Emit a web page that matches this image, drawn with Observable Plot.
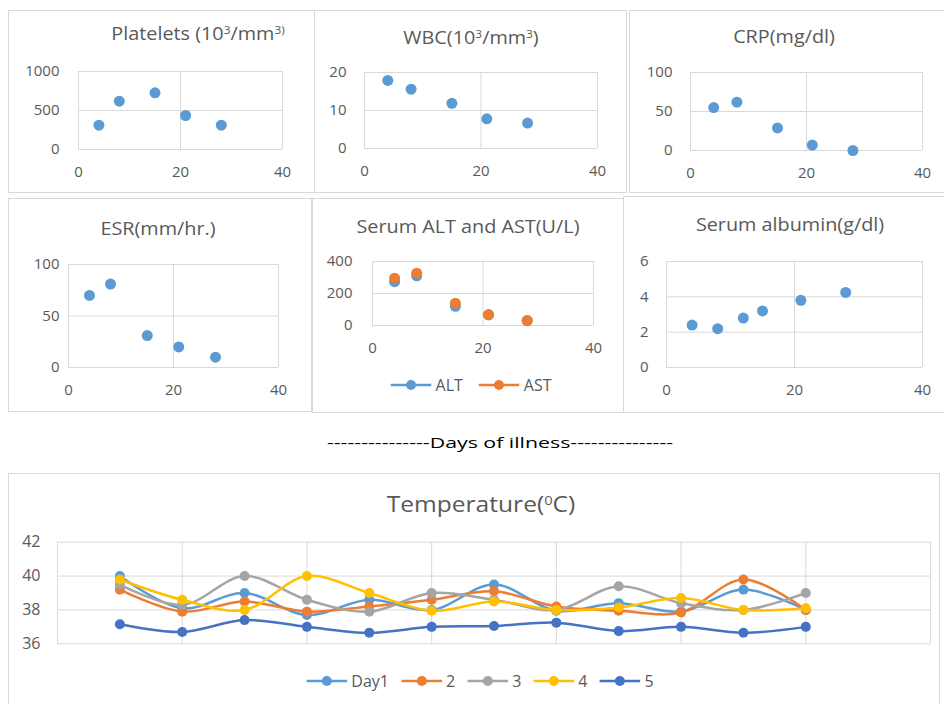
<!DOCTYPE html>
<html><head><meta charset="utf-8">
<script src="https://cdn.jsdelivr.net/npm/d3@7"></script>
<script src="https://cdn.jsdelivr.net/npm/@observablehq/plot@0.6"></script>
<style>
body{margin:0;background:#fff;}
#root{position:relative;width:944px;height:704px;overflow:hidden;background:#fff;font-family:"Open Sans",sans-serif;}
.box{position:absolute;border:1px solid #d9d9d9;box-sizing:border-box;}
.title{position:absolute;color:#595959;white-space:nowrap;line-height:1;}
.title sup{font-size:0.6em;vertical-align:0.55em;line-height:0;}
.abs{position:absolute;}
.legend{position:absolute;display:flex;align-items:center;color:#595959;white-space:nowrap;transform:translate(-50%,-50%);}
.legend .item{display:flex;align-items:center;}
</style></head><body><div id="root"></div>
<script>
// ---------- data ----------
const days = [4, 8, 15, 21, 28];
const platelets = [312, 619, 727, 436, 312];
const wbc = [17.9, 15.6, 11.9, 7.8, 6.7];
const crp = [55, 62, 29, 7, 0];
const esr = [70, 81, 31, 20, 10];
const alt = [274, 311, 120, 66, 30];
const ast = [296, 327, 139, 68, 31];
const albuminDays = [4, 8, 12, 15, 21, 28];
const albumin = [2.4, 2.2, 2.8, 3.2, 3.8, 4.25];
const dayTicks = [0, 20, 40];

const tempReadings = [1, 2, 3, 4, 5, 6, 7, 8, 9, 10, 11, 12];
const tempSeries = ["Day1", "2", "3", "4", "5"];
const tempDay1 = [40.0, 38.1, 39.0, 37.7, 38.6, 38.0, 39.5, 37.95, 38.4, 37.9, 39.2, 38.0];
const tempDay2 = [39.2, 37.9, 38.5, 37.9, 38.2, 38.6, 39.1, 38.2, 37.95, 37.85, 39.8, 38.0];
const tempDay3 = [39.5, 38.3, 40.0, 38.6, 37.9, 39.0, 38.6, 38.0, 39.4, 38.4, 38.0, 39.0];
const tempDay4 = [39.8, 38.6, 38.0, 40.0, 39.0, 37.95, 38.5, 38.0, 38.15, 38.7, 38.0, 38.1];
const tempDay5 = [37.15, 36.7, 37.4, 37.0, 36.65, 37.0, 37.05, 37.25, 36.75, 37.0, 36.65, 37.0];
const tempValues = [tempDay1, tempDay2, tempDay3, tempDay4, tempDay5];
const tempGridX = [0, 2, 4, 6, 8, 10, 12, 14];
const tempTicks = [36, 38, 40, 42];

// ---------- styles ----------
const BLUE = "#5B9BD5", ORANGE = "#ED7D31";
const tempColors = ["#5B9BD5", "#ED7D31", "#A5A5A5", "#FFC000", "#4472C4"];
const GRID = "#d9d9d9";
const fmt = d => String(d);
const root = document.getElementById("root");

function el(tag, cls, css, html) {
  const e = document.createElement(tag);
  if (cls) e.className = cls;
  Object.assign(e.style, css || {});
  if (html != null) e.innerHTML = html;
  root.appendChild(e);
  return e;
}
function box(l, t, r, b) {
  el("div", "box", {left: l + "px", top: t + "px", width: (r - l) + "px", height: (b - t) + "px"});
}
function title(html, cx, cy, size, sx) {
  el("div", "title", {left: cx + "px", top: cy + "px", fontSize: size + "px",
    transform: `translate(-50%,-50%) scaleX(${sx})`}, html);
}
function swatch(color) {
  return `<svg width="41" height="12" style="display:block"><line x1="0" x2="41" y1="6" y2="6" stroke="${color}" stroke-width="2.5"/><circle cx="20.5" cy="6" r="5" fill="${color}"/></svg>`;
}
function legend(names, colors, cx, cy, gap, size) {
  const html = names.map((n, i) => `<div class="item">${swatch(colors[i])}<span style="margin-left:4px">${n}</span></div>`).join("");
  el("div", "legend", {left: cx + "px", top: cy + "px", gap: gap + "px", fontSize: size + "px"}, html);
}
function place(svg, l, t) {
  svg.style.position = "absolute";
  svg.style.left = l + "px";
  svg.style.top = t + "px";
  svg.style.background = "transparent";
  root.appendChild(svg);
}

// ---------- small panels ----------
const panels = [
  {title: "Platelets (10<sup>3</sup>/mm<sup>3)</sup>", box: [8, 10, 315, 193], plot: [78, 71, 282, 149],
   ydom: [0, 1000], yt: [0, 500, 1000], pad: 19, tc: [198, 33], series: [[days, platelets, BLUE]]},
  {title: "WBC(10<sup>3</sup>/mm<sup>3</sup>)", box: [314, 10, 627, 193], plot: [364, 72, 597, 148],
   ydom: [0, 20], yt: [0, 10, 20], pad: 18, tc: [471, 37], series: [[days, wbc, BLUE]]},
  {title: "CRP(mg/dl)", box: [629, 10, 945, 193], plot: [690, 72, 922, 150],
   ydom: [0, 100], yt: [0, 50, 100], pad: 18, tc: [784, 36], series: [[days, crp, BLUE]]},
  {title: "ESR(mm/hr.)", box: [8, 198, 312, 412], plot: [68, 264, 278, 367],
   ydom: [0, 100], yt: [0, 50, 100], pad: 9, tc: [158, 228], series: [[days, esr, BLUE]]},
  {title: "Serum ALT and AST(U/L)", box: [312, 198, 624, 413], plot: [372, 261, 593, 325],
   ydom: [0, 400], yt: [0, 200, 400], pad: 20, tc: [468, 226], series: [[days, alt, BLUE], [days, ast, ORANGE]]},
  {title: "Serum albumin(g/dl)", box: [623, 196, 945, 413], plot: [666, 261, 922, 367],
   ydom: [0, 6], yt: [0, 2, 4, 6], pad: 18, tc: [790, 224], series: [[albuminDays, albumin, BLUE]]}
];

for (const p of panels) {
  const [l, t, r, b] = p.box;
  const [pl, pt, pr, pb] = p.plot;
  box(l, t, r, b);
  const marks = [
    Plot.gridX(dayTicks, {stroke: GRID, strokeOpacity: 1, strokeWidth: 1}),
    Plot.gridY(p.yt, {stroke: GRID, strokeOpacity: 1, strokeWidth: 1})
  ];
  for (const [xs, ys, color] of p.series) {
    const data = xs.map((d, i) => ({day: d, v: ys[i]}));
    marks.push(Plot.dot(data, {x: "day", y: "v", r: 5.5, fill: color}));
  }
  const svg = Plot.plot({
    width: r - l, height: b - t,
    marginLeft: pl - l, marginTop: pt - t, marginRight: r - pr, marginBottom: b - pb,
    x: {domain: [0, 40], ticks: dayTicks, tickSize: 0, tickPadding: 17, tickFormat: fmt, label: null},
    y: {domain: p.ydom, ticks: p.yt, tickSize: 0, tickPadding: p.pad, tickFormat: fmt, label: null},
    style: {fontFamily: "'Open Sans', sans-serif", fontSize: "15px", color: "#595959", background: "transparent", overflow: "visible"},
    marks
  });
  place(svg, l, t);
  title(p.title, p.tc[0], p.tc[1], 18, 1.1);
}
legend(["ALT", "AST"], [BLUE, ORANGE], 471, 385, 16, 16);

// ---------- days of illness ----------
el("div", "title", {left: "500px", top: "442px", fontSize: "15px", color: "#000",
  transform: "translate(-50%,-50%) scaleX(1.42)"}, "---------------Days of illness---------------");

// ---------- temperature ----------
box(8, 473, 940, 720);
title("Temperature(<sup>0</sup>C)", 481, 504, 21, 1.17);
{
  const l = 8, t = 528, r = 940, b = 662;
  const pl = 57, pt = 541.7, pr = 930, pb = 643.3;
  const marks = [
    Plot.gridX(tempGridX, {stroke: GRID, strokeOpacity: 1, strokeWidth: 1}),
    Plot.gridY(tempTicks, {stroke: GRID, strokeOpacity: 1, strokeWidth: 1})
  ];
  tempSeries.forEach((name, si) => {
    const data = tempReadings.map((k, i) => ({k, v: tempValues[si][i]}));
    marks.push(Plot.line(data, {x: "k", y: "v", stroke: tempColors[si], strokeWidth: 2.5, curve: "catmull-rom"}));
    marks.push(Plot.dot(data, {x: "k", y: "v", r: 5, fill: tempColors[si]}));
  });
  const svg = Plot.plot({
    width: r - l, height: b - t,
    marginLeft: pl - l, marginTop: pt - t, marginRight: r - pr, marginBottom: b - pb,
    x: {domain: [0, 14], axis: null},
    y: {domain: [36, 42], ticks: tempTicks, tickSize: 0, tickPadding: 17, tickFormat: fmt, label: null},
    style: {fontFamily: "'Open Sans', sans-serif", fontSize: "16px", color: "#595959", background: "transparent", overflow: "visible"},
    marks
  });
  place(svg, l, t);
}
legend(tempSeries, tempColors, 480, 681, 12, 16);
</script>
</body></html>
